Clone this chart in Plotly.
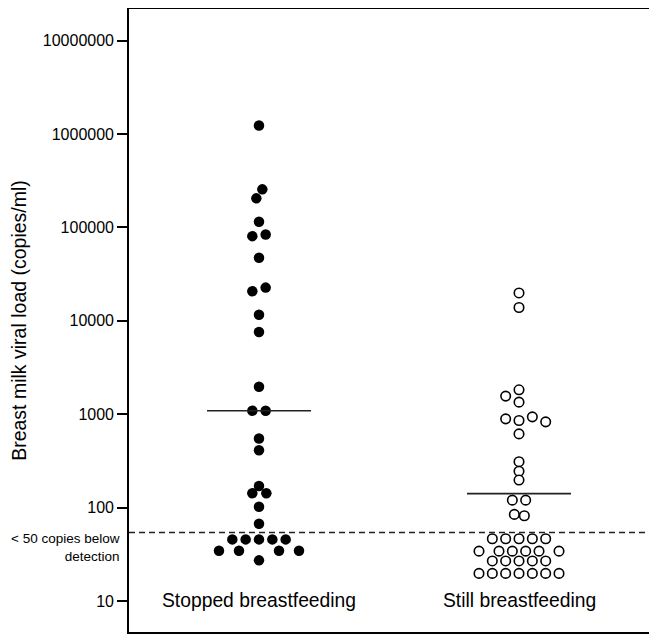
import plotly.graph_objects as go

# Breast milk viral load (copies/ml) per woman
stopped_values = [1236000, 256000, 205000, 115000, 80700, 84200, 47300, 20700, 22700,
                  11600, 7600, 1970, 1087, 1087, 548, 411, 170, 142, 142, 102, 67,
                  45.6, 45.6, 45.6, 45.6, 45.6, 34.4, 34.4, 34.4, 34.4, 27.2]
# side-by-side slot of each dot in the swarm (in dot widths)
stopped_slots = [0, 0.25, -0.2, 0, -0.5, 0.5, 0, -0.5, 0.5, 0, 0, 0, -0.5, 0.5, 0, 0, 0,
                 -0.5, 0.55, 0, 0, -2, -1, 0, 1, 2, -3, -1.5, 1.5, 3, 0]

still_values = [19900, 13900, 1824, 1563, 1346, 891, 855, 937, 828, 615, 310, 245, 197,
                120, 120, 84.5, 81.7,
                46.3, 46.3, 46.3, 46.3, 46.3,
                34.1, 34.1, 34.1, 34.1, 34.1, 34.1,
                26.8, 26.8, 26.8, 26.8, 26.8,
                19.7, 19.7, 19.7, 19.7, 19.7, 19.7, 19.7]
still_slots = [0, 0, 0, -1, 0, -1, 0, 1, 2, 0, 0, 0, 0, -0.5, 0.5, -0.35, 0.4,
               -2, -1, 0, 1, 2,
               -3, -1.5, -0.5, 0.5, 1.5, 3,
               -2, -1, 0, 1, 2,
               -3, -2, -1, 0, 1, 2, 3]

groups = ["Stopped breastfeeding", "Still breastfeeding"]
medians = [1087, 141]
detection_limit = 54

tick_vals = [10, 100, 1000, 10000, 100000, 1000000, 10000000]
tick_text = ["10", "100", "1000", "10000", "100000", "1000000", "10000000"]

dot_step = 0.0513
half_width = 0.2

fig = go.Figure()

fig.add_trace(go.Scatter(
    x=[1 + s * dot_step for s in stopped_slots], y=stopped_values,
    mode="markers", marker=dict(size=10.5, color="black", line=dict(width=0)),
    showlegend=False))

fig.add_trace(go.Scatter(
    x=[2 + s * dot_step for s in still_slots], y=still_values,
    mode="markers",
    marker=dict(size=9.5, color="white", line=dict(width=1.6, color="black")),
    showlegend=False))

for i, m in enumerate(medians):
    fig.add_trace(go.Scatter(
        x=[i + 1 - half_width, i + 1 + half_width], y=[m, m], mode="lines",
        line=dict(color="#222222", width=1.6), showlegend=False))

fig.add_trace(go.Scatter(
    x=[0.5, 2.5], y=[detection_limit, detection_limit], mode="lines",
    line=dict(color="#222222", width=1.5, dash="6px,4px"), showlegend=False))

font = "Liberation Sans, Arial, sans-serif"

for i, g in enumerate(groups):
    fig.add_annotation(x=i + 1, y=1.0, xref="x", yref="y", text=g, showarrow=False,
                       font=dict(size=19.3, color="black", family=font),
                       xanchor="center", yanchor="middle")

fig.add_annotation(x=-0.013, y=1.573, xref="paper", yref="y",
                   text="< 50 copies below<br>detection", showarrow=False, align="right",
                   font=dict(size=13.5, color="black", family=font),
                   xanchor="right", yanchor="middle")

# page body has an 8px margin, so the figure is sized to sit inside the window
fig.update_layout(
    width=649, height=633,
    margin=dict(l=121, r=8, t=1, b=9),
    plot_bgcolor="white", paper_bgcolor="white",
    font=dict(family=font, color="black"),
    xaxis=dict(range=[0.5, 2.5], showticklabels=False, ticks="", showgrid=False,
               zeroline=False, showline=True, linecolor="black", linewidth=1.6,
               mirror=True, automargin=False),
    yaxis=dict(type="log", range=[0.667, 7.34], tickvals=tick_vals, ticktext=tick_text,
               ticks="outside", ticklen=10, tickwidth=1.5, tickcolor="black",
               tickfont=dict(size=16), showgrid=False, zeroline=False,
               showline=True, linecolor="black", linewidth=1.6, mirror=True,
               automargin=False,
               title=dict(text="Breast milk viral load (copies/ml)", font=dict(size=19.5),
                          standoff=12)),
)

fig.write_html("out.html")
